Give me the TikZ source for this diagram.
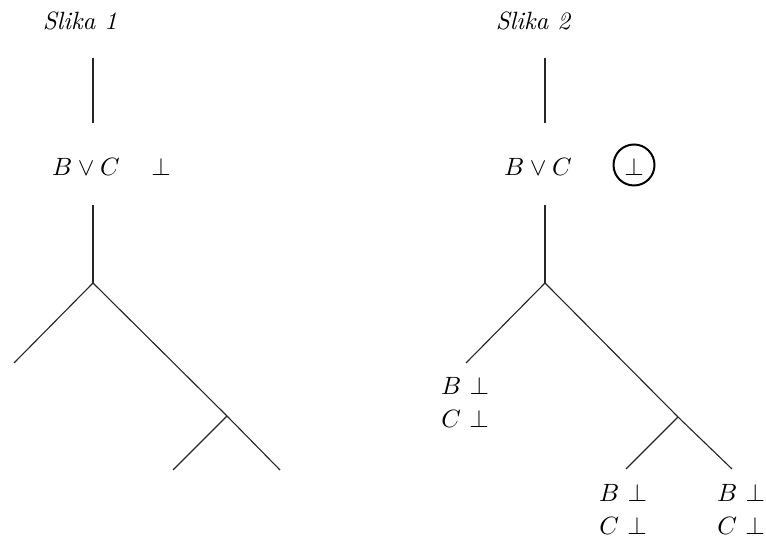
\documentclass[tikz,border=0pt]{standalone}
\begin{document}
\begin{tikzpicture}[x=0.4pt,y=-0.4pt,
  edge/.style={line width=0.45pt,black!85},
  lbl/.style={inner sep=0pt,anchor=base},
  ttl/.style={inner sep=0pt,anchor=base,font=\itshape}]
\useasboundingbox (0,0) rectangle (766,537);
% ---------- Slika 1 ----------
\node[ttl] (t1) at (80,30) {Slika 1};
\coordinate (a1) at (93,58);
\coordinate (a2) at (93,123);
\node[lbl] (bc1) at (86,176) {$B\vee C$};
\node[lbl] (f1) at (161,176) {$\bot$};
\coordinate (a3) at (93,205);
\coordinate (r1) at (93,283);
\coordinate (l1) at (14,363);
\coordinate (m1) at (227,416);
\coordinate (ml1) at (173,470);
\coordinate (mr1) at (280,470);
\draw[edge] (a1) -- (a2);
\draw[edge] (a3) -- (r1);
\draw[edge] (r1) -- (l1);
\draw[edge] (r1) -- (m1);
\draw[edge] (m1) -- (ml1);
\draw[edge] (m1) -- (mr1);
% ---------- Slika 2 ----------
\node[ttl] (t2) at (533,30) {Slika 2};
\coordinate (b1) at (545,58);
\coordinate (b2) at (545,123);
\node[lbl] (bc2) at (538,176) {$B\vee C$};
\node[lbl] (f2) at (634,176) {$\bot$};
\node[draw,circle,line width=0.8pt,minimum size=16.4pt,inner sep=0pt] (c2) at (634,165) {};
\coordinate (b3) at (545,205);
\coordinate (r2) at (545,283);
\coordinate (l2) at (466,363);
\coordinate (m2) at (678,417);
\coordinate (ml2) at (626,469);
\coordinate (mr2) at (732,469);
\draw[edge] (b1) -- (b2);
\draw[edge] (b3) -- (r2);
\draw[edge] (r2) -- (l2);
\draw[edge] (r2) -- (m2);
\draw[edge] (m2) -- (ml2);
\draw[edge] (m2) -- (mr2);
% leaf labels
\node[lbl] (lb) at (465,395) {$B\ \bot$};
\node[lbl] (lc) at (465,428) {$C\ \bot$};
\node[lbl] (mb) at (623,502) {$B\ \bot$};
\node[lbl] (mc) at (623,535) {$C\ \bot$};
\node[lbl] (nb) at (741,502) {$B\ \bot$};
\node[lbl] (nc) at (741,535) {$C\ \bot$};
\end{tikzpicture}
\end{document}
